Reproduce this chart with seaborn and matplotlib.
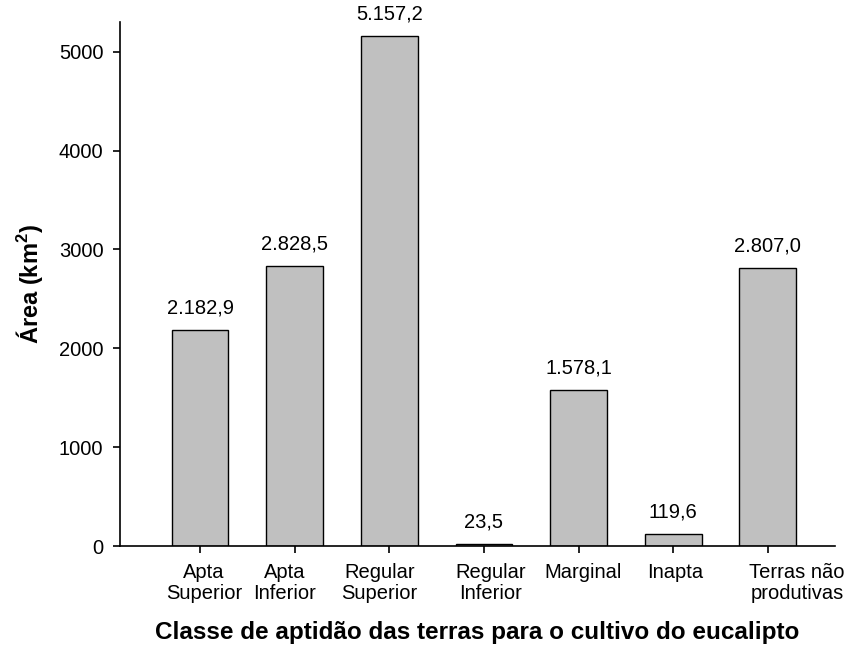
import numpy as np
import pandas as pd
import matplotlib
matplotlib.use("Agg")
import matplotlib.pyplot as plt
import matplotlib.transforms as mtransforms
import seaborn as sns

classes = ["Apta\nSuperior", "Apta\nInferior", "Regular\nSuperior", "Regular\nInferior",
           "Marginal", "Inapta", "Terras não\nprodutivas"]
area_km2 = [2182.9, 2828.5, 5157.2, 23.5, 1578.1, 119.6, 2807.0]
y_ticks = [0, 1000, 2000, 3000, 4000, 5000]

df = pd.DataFrame({"classe": classes, "area": area_km2})

sns.set_style("ticks")
plt.rcParams["font.family"] = ["Liberation Sans", "DejaVu Sans"]
plt.rcParams["text.color"] = "black"
plt.rcParams["axes.labelcolor"] = "black"
plt.rcParams["xtick.color"] = "black"
plt.rcParams["ytick.color"] = "black"
plt.rcParams["mathtext.fontset"] = "custom"
plt.rcParams["mathtext.rm"] = "Liberation Sans"
plt.rcParams["mathtext.bf"] = "Liberation Sans:bold"

fig = plt.figure(figsize=(8.48, 6.49), dpi=100)
ax = fig.add_axes([120 / 848, 103 / 649, 715 / 848, 524 / 649])

sns.barplot(data=df, x="classe", y="area", color="#c0c0c0", saturation=1,
            edgecolor="black", linewidth=1.0, width=0.6, ax=ax)

# brazilian number format for the labels above bars
def br_fmt(v):
    return f"{v:,.1f}".replace(",", "X").replace(".", ",").replace("X", ".")

ax.bar_label(ax.containers[0], labels=[br_fmt(v) for v in area_km2],
             padding=9, fontsize=14.5)

ax.set_xlim(-0.846, 6.71)
ax.set_ylim(0, 5300)
ax.set_yticks(y_ticks)
ax.tick_params(axis="both", direction="out", length=5, width=1.2, labelsize=14.5)
ax.tick_params(axis="x", pad=7)
ax.tick_params(axis="y", pad=7)

# the original labels sit a bit off their ticks
offsets_px = [4, -10, -10, 7, 5, 2, 29]
for lab, dx in zip(ax.get_xticklabels(), offsets_px):
    lab.set_transform(lab.get_transform() + mtransforms.ScaledTranslation(dx / 100, 0, fig.dpi_scale_trans))
    lab.set_linespacing(1.15)

ax.set_xlabel("Classe de aptidão das terras para o cultivo do eucalipto",
              fontsize=17.5, fontweight="bold", labelpad=13)
ax.set_ylabel(r"Área (km$^\mathbf{2}$)", fontsize=17, fontweight="bold", labelpad=10)

for side in ["top", "right"]:
    ax.spines[side].set_visible(False)
for side in ["left", "bottom"]:
    ax.spines[side].set_linewidth(1.2)
    ax.spines[side].set_color("black")

plt.savefig("out.png", dpi=100)
